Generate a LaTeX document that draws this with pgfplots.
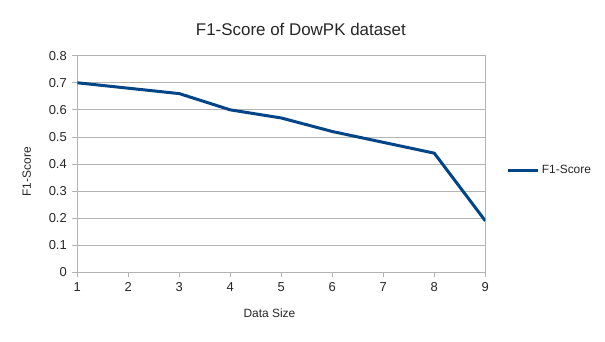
\documentclass[border=0pt]{standalone}
\usepackage{fontspec}
\setmainfont{Liberation Sans}
\usepackage{pgfplots}
\pgfplotsset{compat=1.18}
\definecolor{lineblue}{HTML}{004586}
\definecolor{gridgray}{HTML}{B3B3B3}
\begin{document}
\begin{tikzpicture}[x=1bp,y=1bp]
\path[use as bounding box] (-77.3,-68.7) rectangle (527.7,272.3);
\begin{axis}[
  at={(0,0)}, anchor=south west,
  scale only axis, width=408bp, height=216.6bp,
  xmin=1, xmax=9, ymin=0, ymax=0.8,
  xtick={1,...,9}, ytick={0,0.1,...,0.8},
  yticklabel style={/pgf/number format/fixed,/pgf/number format/precision=1},
  /pgf/number format/assume math mode=true,
  ymajorgrids, grid style={gridgray, line width=0.8bp},
  axis line style={gridgray, line width=0.8bp},
  tick style={gridgray, line width=0.8bp},
  tick align=outside, major tick length=5bp,
  xtick pos=bottom, ytick pos=left,
  tick label style={font=\fontsize{13}{15}\selectfont, text=black!85},
  xticklabel style={yshift=-2bp},
  yticklabel style={xshift=-2bp},
  title={F1-Score of DowPK dataset},
  title style={font=\fontsize{17}{20}\selectfont, text=black!85, at={(axis description cs:0.548,1)}, anchor=south, yshift=11bp},
  xlabel={Data Size},
  xlabel style={font=\fontsize{12}{14}\selectfont, text=black!85, at={(axis description cs:0.471,-0.188)}, anchor=center},
  ylabel={F1-Score},
  ylabel style={font=\fontsize{12}{14}\selectfont, text=black!85, at={(axis description cs:-0.124,0.464)}, anchor=center},
  legend style={at={(axis description cs:1.045,0.472)}, anchor=west, draw=none, fill=none, font=\fontsize{12}{14}\selectfont, text=black!85},
  legend cell align=left,
  legend image code/.code={\draw[#1, line width=3bp] (0bp,0bp) -- (30bp,0bp);},
]
\addplot[lineblue, line width=3bp, line join=round] coordinates {
  (1,0.70) (2,0.68) (3,0.66) (4,0.60) (5,0.57) (6,0.52) (7,0.48) (8,0.44) (9,0.19)
};
\addlegendentry{F1-Score}
\end{axis}
\end{tikzpicture}
\end{document}
